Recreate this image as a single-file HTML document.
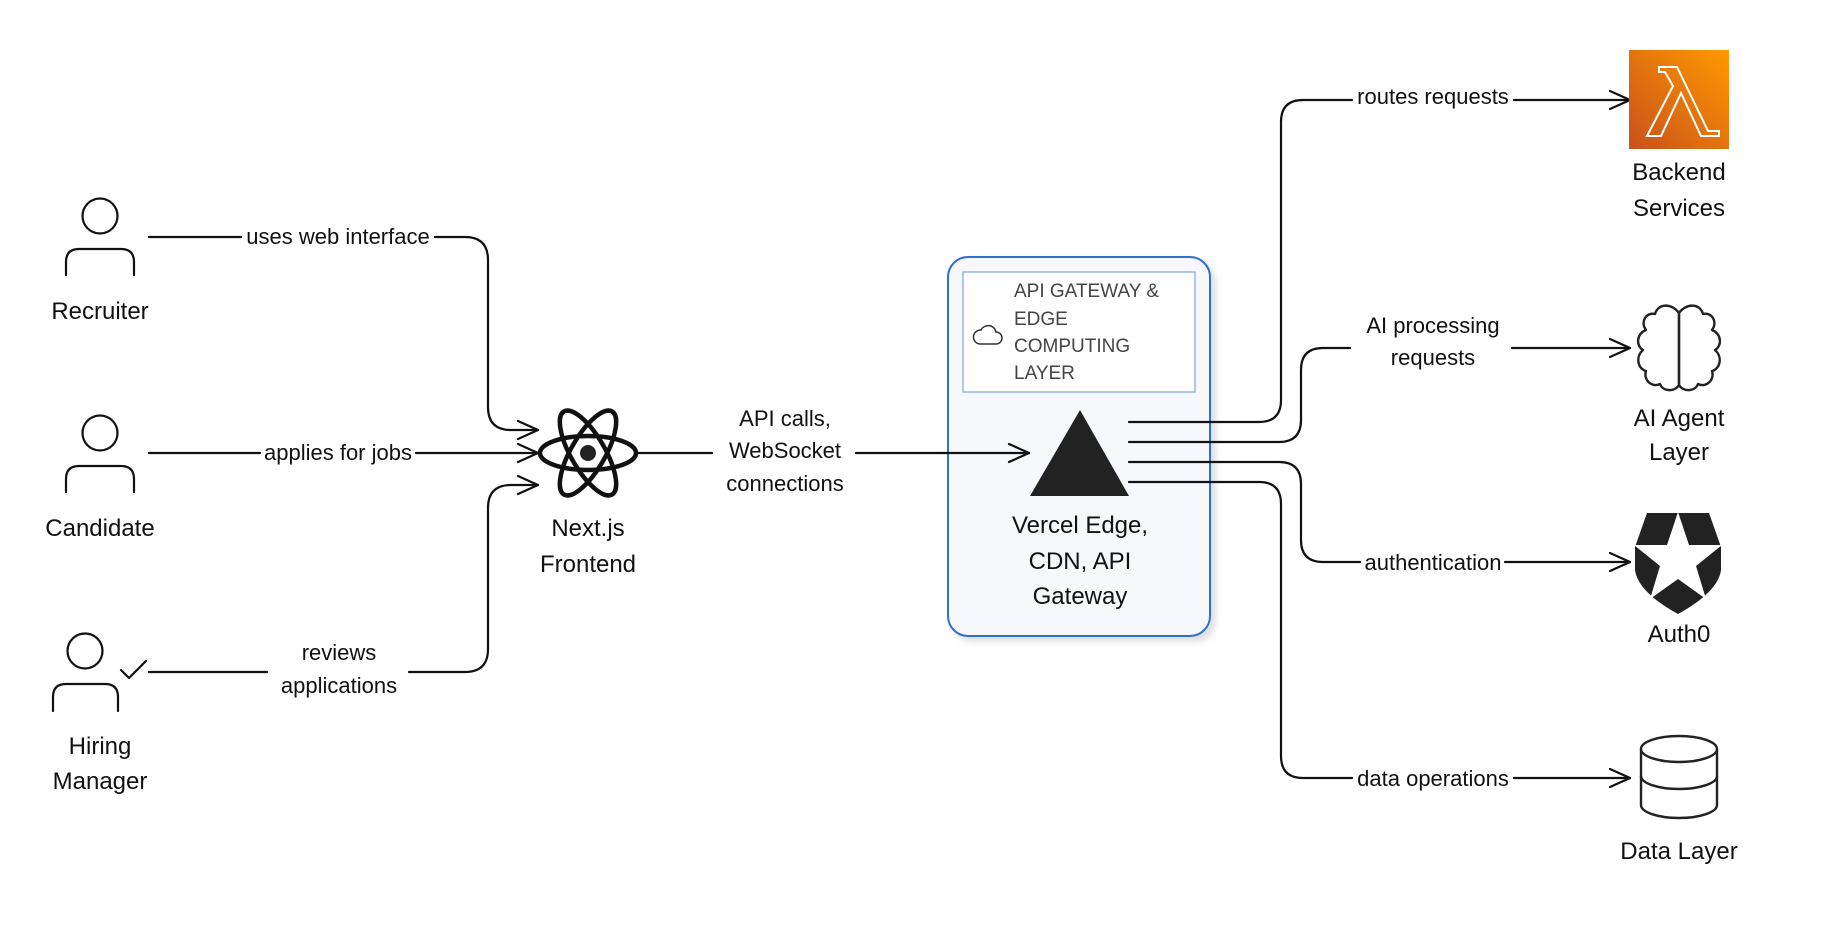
<!DOCTYPE html>
<html><head><meta charset="utf-8"><style>
html,body{margin:0;padding:0;background:#fff}
svg{display:block}
text{font-family:"Liberation Sans",Arial,sans-serif;fill:#111}
</style></head><body>
<svg width="1839" height="927" viewBox="0 0 1839 927" xmlns="http://www.w3.org/2000/svg">
<defs>
<linearGradient id="lg" x1="0" y1="1" x2="1" y2="0">
<stop offset="0" stop-color="#c8511b"/><stop offset="1" stop-color="#ff9900"/>
</linearGradient>
<filter id="sh" x="-10%" y="-10%" width="130%" height="130%"><feDropShadow dx="5" dy="5" stdDeviation="3" flood-color="#000" flood-opacity="0.12"/></filter>
</defs>
<!-- container -->
<rect x="948" y="257" width="262" height="379" rx="20" fill="#f6f8fc" stroke="#2f6fd0" stroke-width="2" filter="url(#sh)"/>
<rect x="963" y="272" width="232" height="120" fill="#fff" stroke="#7fa3dc" stroke-width="1.2"/>
<path d="M980,344 h16 a6,6 0 0 0 0,-12 a8,8 0 0 0 -15,-2 a5.5,5.5 0 0 0 -1,14 z" fill="none" stroke="#333" stroke-width="1.5"/>
<g font-size="19">
<text x="1014" y="297" style="fill:#444">API GATEWAY &amp;</text>
<text x="1014" y="325" style="fill:#444">EDGE</text>
<text x="1014" y="352" style="fill:#444">COMPUTING</text>
<text x="1014" y="379" style="fill:#444">LAYER</text>
</g>
<polygon points="1080,410 1129,496 1030,496" fill="#222"/>
<g fill="none" stroke="#111" stroke-width="2.2" stroke-linecap="round" stroke-linejoin="round">
<!-- actors -->
<circle cx="100" cy="216" r="17.5"/>
<path d="M66,275 V262 Q66,249 79,249 H121 Q134,249 134,262 V275"/>
<circle cx="100" cy="433" r="17.5"/>
<path d="M66,492 V479 Q66,466 79,466 H121 Q134,466 134,479 V492"/>
<circle cx="85" cy="651" r="17.5"/>
<path d="M53,711 V697 Q53,684 66,684 H105 Q118,684 118,697 V711"/>
<path d="M121,670 L129,678 L146,661"/>
<!-- left connectors -->
<path d="M149,237 H241 M435,237 H465 Q488,237 488,260 V407 Q488,430 511,430 H538"/>
<path d="M518,421 L538,430 L518,439"/>
<path d="M149,453 H260 M416,453 H538"/>
<path d="M518,444 L538,453 L518,462"/>
<path d="M149,672 H267 M409,672 H465 Q488,672 488,649 V508 Q488,485 511,485 H538"/>
<path d="M518,476 L538,485 L518,494"/>
<!-- react -->
<g transform="translate(588,453)" stroke-width="4.5">
<ellipse rx="48" ry="17"/>
<ellipse rx="48" ry="17" transform="rotate(60)"/>
<ellipse rx="48" ry="17" transform="rotate(120)"/>
</g>
<path d="M637,453 H712 M856,453 H1029"/>
<path d="M1009,444 L1029,453 L1009,462"/>
<!-- right connectors -->
<path d="M1129,422 H1259 Q1281,422 1281,400 V122 Q1281,100 1303,100 H1352 M1514,100 H1630"/>
<path d="M1610,91 L1630,100 L1610,109"/>
<path d="M1129,442 H1279 Q1301,442 1301,420 V370 Q1301,348 1323,348 H1350 M1512,348 H1630"/>
<path d="M1610,339 L1630,348 L1610,357"/>
<path d="M1129,462 H1279 Q1301,462 1301,484 V540 Q1301,562 1323,562 H1360 M1505,562 H1630"/>
<path d="M1610,553 L1630,562 L1610,571"/>
<path d="M1129,482 H1259 Q1281,482 1281,504 V756 Q1281,778 1303,778 H1352 M1514,778 H1630"/>
<path d="M1610,769 L1630,778 L1610,787"/>
</g>
<circle cx="588" cy="453" r="8" fill="#222"/>
<!-- lambda -->
<rect x="1629" y="50" width="100" height="99" fill="url(#lg)"/>
<path d="M1659,67 H1677 L1708,131 H1719 V136 H1701 L1681,93 L1661,136 H1647 L1673,86 L1665,72 H1659 Z" fill="none" stroke="#fff" stroke-width="2" stroke-linejoin="miter"/>
<!-- brain -->
<g fill="none" stroke="#222" stroke-width="2.4" stroke-linejoin="round">
<path d="M1679,313 C1672,303 1658,303 1655,314 C1646,312 1640,322 1646,330 C1636,334 1636,346 1643,350 C1635,357 1638,369 1646,371 C1643,380 1652,388 1660,384 C1663,392 1675,392 1679,385 Z"/>
<path d="M1679,313 C1686,303 1700,303 1703,314 C1712,312 1718,322 1712,330 C1722,334 1722,346 1715,350 C1723,357 1720,369 1712,371 C1715,380 1706,388 1698,384 C1695,392 1683,392 1679,385 Z"/>
</g>
<!-- auth0 -->
<path d="M1647,513 H1709 L1721,547 V570 Q1718,592 1678,614 Q1638,592 1635,570 V547 Z" fill="#222"/>
<polygon points="1678,512 1689,545 1722,545 1696,566 1706,599 1678,579 1650,599 1660,566 1634,545 1667,545" fill="#fff"/>
<!-- db -->
<g fill="none" stroke="#222" stroke-width="2.4">
<path d="M1641,749 V805 A38,13 0 0 0 1717,805 V749"/>
<ellipse cx="1679" cy="749" rx="38" ry="13"/>
<path d="M1641,776 A38,13 0 0 0 1717,776"/>
</g>
<!-- node labels -->
<g font-size="24" text-anchor="middle">
<text x="100" y="319">Recruiter</text>
<text x="100" y="536">Candidate</text>
<text x="100" y="754">Hiring</text>
<text x="100" y="789">Manager</text>
<text x="588" y="536">Next.js</text>
<text x="588" y="572">Frontend</text>
<text x="1080" y="533">Vercel Edge,</text>
<text x="1080" y="569">CDN, API</text>
<text x="1080" y="604">Gateway</text>
<text x="1679" y="180">Backend</text>
<text x="1679" y="216">Services</text>
<text x="1679" y="426">AI Agent</text>
<text x="1679" y="460">Layer</text>
<text x="1679" y="642">Auth0</text>
<text x="1679" y="859">Data Layer</text>
</g>
<g font-size="22" text-anchor="middle">
<text x="338" y="244">uses web interface</text>
<text x="338" y="460">applies for jobs</text>
<text x="339" y="660">reviews</text>
<text x="339" y="693">applications</text>
<text x="785" y="426">API calls,</text>
<text x="785" y="458">WebSocket</text>
<text x="785" y="491">connections</text>
<text x="1433" y="104">routes requests</text>
<text x="1433" y="333">AI processing</text>
<text x="1433" y="365">requests</text>
<text x="1433" y="570">authentication</text>
<text x="1433" y="786">data operations</text>
</g>
</svg>
</body></html>
